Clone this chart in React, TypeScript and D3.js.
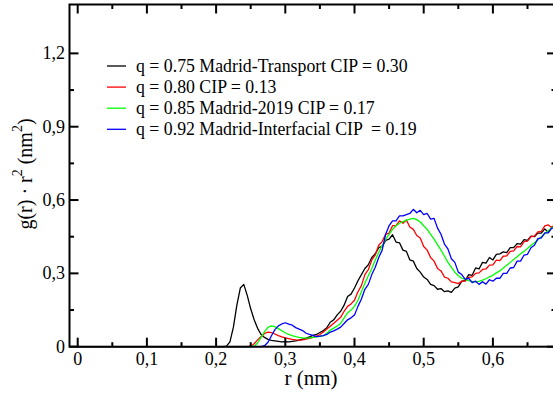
import { useEffect, useRef } from 'react';
import * as d3 from 'd3';

// r grid of the tabulated values: 0.200 .. 0.690 nm, step 0.005 (curves are 0 below 0.2)
const rStart = 0.2;
const rStep = 0.005;

const blackValues = [
  0, 0, 0, 0.002, 0.02, 0.08, 0.17, 0.24, 0.255, 0.21,
  0.155, 0.11, 0.075, 0.05, 0.038, 0.03, 0.026, 0.024, 0.022, 0.02,
  0.021, 0.02, 0.022, 0.024, 0.027, 0.031, 0.035, 0.04, 0.046, 0.05,
  0.058, 0.066, 0.078, 0.1, 0.11, 0.13, 0.145, 0.17, 0.205, 0.215,
  0.24, 0.27, 0.295, 0.32, 0.335, 0.365, 0.38, 0.405, 0.41, 0.435,
  0.44, 0.458, 0.428, 0.425, 0.395, 0.39, 0.355, 0.35, 0.32, 0.305,
  0.285, 0.275, 0.255, 0.25, 0.235, 0.238, 0.225, 0.228, 0.222, 0.24,
  0.245, 0.268, 0.27, 0.295, 0.292, 0.322, 0.318, 0.345, 0.342, 0.365,
  0.355, 0.378, 0.38, 0.388, 0.385, 0.405, 0.405, 0.422, 0.42, 0.438,
  0.435, 0.452, 0.45, 0.465, 0.465, 0.482, 0.468, 0.488, 0.49,
];

const redValues = [
  0, 0, 0, 0, 0, 0, 0, 0, 0, 0,
  0.002, 0.012, 0.028, 0.042, 0.054, 0.06, 0.058, 0.052, 0.045, 0.04,
  0.036, 0.033, 0.03, 0.028, 0.027, 0.028, 0.031, 0.034, 0.038, 0.043,
  0.05, 0.06, 0.072, 0.084, 0.096, 0.108, 0.12, 0.145, 0.165, 0.175,
  0.19, 0.225, 0.25, 0.295, 0.315, 0.355, 0.375, 0.415, 0.43, 0.46,
  0.465, 0.495, 0.495, 0.515, 0.505, 0.518, 0.49, 0.48, 0.455, 0.445,
  0.41, 0.395, 0.365, 0.35, 0.32, 0.31, 0.285, 0.28, 0.265, 0.262,
  0.258, 0.268, 0.268, 0.284, 0.286, 0.3, 0.302, 0.316, 0.318, 0.334,
  0.335, 0.354, 0.352, 0.37, 0.372, 0.39, 0.392, 0.41, 0.408, 0.43,
  0.432, 0.45, 0.452, 0.47, 0.472, 0.494, 0.498, 0.488, 0.502,
];

const greenValues = [
  0, 0, 0, 0, 0, 0, 0, 0, 0, 0,
  0, 0.002, 0.015, 0.038, 0.062, 0.079, 0.085, 0.082, 0.074, 0.065,
  0.057, 0.05, 0.045, 0.041, 0.038, 0.036, 0.035, 0.036, 0.038, 0.04,
  0.042, 0.045, 0.055, 0.068, 0.076, 0.085, 0.095, 0.118, 0.138, 0.15,
  0.165, 0.19, 0.225, 0.26, 0.29, 0.32, 0.355, 0.385, 0.415, 0.44,
  0.46, 0.48, 0.495, 0.505, 0.512, 0.518, 0.522, 0.525, 0.52, 0.51,
  0.495, 0.48, 0.46, 0.44, 0.418, 0.395, 0.37, 0.345, 0.325, 0.305,
  0.29, 0.28, 0.275, 0.27, 0.267, 0.265, 0.267, 0.272, 0.278, 0.286,
  0.292, 0.302, 0.31, 0.322, 0.333, 0.345, 0.357, 0.368, 0.38, 0.39,
  0.402, 0.415, 0.425, 0.437, 0.45, 0.462, 0.474, 0.486, 0.495,
];

const blueValues = [
  0, 0, 0, 0, 0, 0, 0, 0, 0, 0,
  0, 0, 0, 0, 0.004, 0.018, 0.045, 0.07, 0.085, 0.093,
  0.098, 0.092, 0.088, 0.078, 0.072, 0.066, 0.055, 0.05, 0.046, 0.041,
  0.043, 0.045, 0.05, 0.06, 0.065, 0.072, 0.08, 0.095, 0.11, 0.118,
  0.13, 0.165, 0.195, 0.235, 0.255, 0.295, 0.325, 0.365, 0.395, 0.46,
  0.495, 0.515, 0.515, 0.535, 0.535, 0.54, 0.545, 0.562, 0.548, 0.558,
  0.54, 0.545, 0.522, 0.525, 0.485, 0.46, 0.42, 0.4, 0.36, 0.345,
  0.305, 0.295, 0.275, 0.28, 0.262, 0.268, 0.255, 0.266, 0.256, 0.274,
  0.268, 0.28, 0.28, 0.3, 0.3, 0.322, 0.324, 0.35, 0.35, 0.375,
  0.378, 0.405, 0.415, 0.442, 0.445, 0.466, 0.466, 0.485, 0.486,
];

const seriesLabels = [
  'q = 0.75 Madrid-Transport CIP = 0.30',
  'q = 0.80 CIP = 0.13',
  'q = 0.85 Madrid-2019 CIP = 0.17',
  'q = 0.92 Madrid-Interfacial CIP  = 0.19',
];
const seriesColors = ['#000000', '#ff0000', '#00ff00', '#0000ff'];
const seriesValues = [blackValues, redValues, greenValues, blueValues];

const xMajorTicks = [0, 0.1, 0.2, 0.3, 0.4, 0.5, 0.6];
const xMinorTicks = [0.05, 0.15, 0.25, 0.35, 0.45, 0.55, 0.65];
const yMajorTicks = [0, 0.3, 0.6, 0.9, 1.2];
const yMinorTicks = [0.15, 0.45, 0.75, 1.05];

const fmt = (v: number) => (v === 0 ? '0' : d3.format('.1f')(v).replace('.', ','));

export default function App() {
  const svgRef = useRef<SVGSVGElement>(null);
  const width = 553;
  const height = 395;

  useEffect(() => {
    if (!svgRef.current) return;
    const svg = d3.select(svgRef.current);
    svg.selectAll('*').remove();

    const frame = { left: 69.5, right: 556, top: 4.5, bottom: 346.7 };

    const x = d3.scaleLinear().domain([0, 0.7]).range([77.7, 562.1]);
    const y = d3.scaleLinear().domain([0, 1.4]).range([346.7, 4.5]);

    svg
      .append('defs')
      .append('clipPath')
      .attr('id', 'plot-clip')
      .append('rect')
      .attr('x', frame.left)
      .attr('y', frame.top)
      .attr('width', frame.right - frame.left)
      .attr('height', frame.bottom - frame.top + 2);

    // curves
    const line = d3
      .line<[number, number]>()
      .x((d) => x(d[0]))
      .y((d) => y(d[1]));

    const plot = svg.append('g').attr('clip-path', 'url(#plot-clip)');
    seriesValues.forEach((vals, k) => {
      const pts: [number, number][] = [[0, 0], ...vals.map((v, i) => [rStart + i * rStep, v] as [number, number])];
      plot
        .append('path')
        .datum(pts)
        .attr('fill', 'none')
        .attr('stroke', seriesColors[k])
        .attr('stroke-width', 1.3)
        .attr('stroke-linejoin', 'round')
        .attr('d', line);
    });

    // frame
    svg
      .append('rect')
      .attr('x', frame.left)
      .attr('y', frame.top)
      .attr('width', frame.right - frame.left)
      .attr('height', frame.bottom - frame.top)
      .attr('fill', 'none')
      .attr('stroke', '#000')
      .attr('stroke-width', 2);

    const ticks = svg.append('g').attr('stroke', '#000').attr('stroke-width', 2);
    const tick = (x1: number, y1: number, x2: number, y2: number) =>
      ticks.append('line').attr('x1', x1).attr('y1', y1).attr('x2', x2).attr('y2', y2);

    xMajorTicks.forEach((t) => {
      tick(x(t), frame.bottom, x(t), frame.bottom - 9);
      tick(x(t), frame.top, x(t), frame.top + 9);
    });
    xMinorTicks.forEach((t) => {
      tick(x(t), frame.bottom, x(t), frame.bottom - 4.5);
      tick(x(t), frame.top, x(t), frame.top + 4.5);
    });
    yMajorTicks.forEach((t) => {
      tick(frame.left, y(t), frame.left + 9, y(t));
      tick(frame.right, y(t), frame.right - 9, y(t));
    });
    yMinorTicks.forEach((t) => {
      tick(frame.left, y(t), frame.left + 4.5, y(t));
      tick(frame.right, y(t), frame.right - 4.5, y(t));
    });

    // tick labels
    svg
      .append('g')
      .selectAll('text')
      .data(xMajorTicks)
      .join('text')
      .attr('x', (d) => x(d))
      .attr('y', 364.5)
      .attr('text-anchor', 'middle')
      .attr('font-size', 18)
      .text((d) => fmt(d));

    svg
      .append('g')
      .selectAll('text')
      .data(yMajorTicks)
      .join('text')
      .attr('x', 65)
      .attr('y', (d) => y(d) + 6)
      .attr('text-anchor', 'end')
      .attr('font-size', 18)
      .text((d) => fmt(d));

    // axis titles
    svg
      .append('text')
      .attr('x', 311)
      .attr('y', 384.5)
      .attr('text-anchor', 'middle')
      .attr('font-size', 21)
      .text('r (nm)');

    const yTitle = svg
      .append('text')
      .attr('transform', 'translate(32,174) rotate(-90)')
      .attr('text-anchor', 'middle')
      .attr('font-size', 20);
    yTitle.append('tspan').text('g(r) · r');
    yTitle.append('tspan').attr('dy', -10).attr('font-size', 14).text('2');
    yTitle.append('tspan').attr('dy', 10).text(' (nm');
    yTitle.append('tspan').attr('dy', -10).attr('font-size', 14).text('2');
    yTitle.append('tspan').attr('dy', 10).text(')');

    // legend
    const legend = svg.append('g');
    seriesLabels.forEach((label, i) => {
      const ly = 66 + i * 21.1;
      legend
        .append('line')
        .attr('x1', 107)
        .attr('x2', 126)
        .attr('y1', ly)
        .attr('y2', ly)
        .attr('stroke', seriesColors[i])
        .attr('stroke-width', 1.3);
      legend
        .append('text')
        .attr('x', 136)
        .attr('y', ly + 6)
        .attr('font-size', 17.8)
        .attr('xml:space', 'preserve')
        .style('white-space', 'pre')
        .text(label);
    });
  }, []);

  return (
    <svg
      ref={svgRef}
      width={width}
      height={height}
      fontFamily="Liberation Serif, Times New Roman, DejaVu Serif, serif"
      style={{ position: 'absolute', left: 0, top: 0, background: '#fff' }}
    />
  );
}
